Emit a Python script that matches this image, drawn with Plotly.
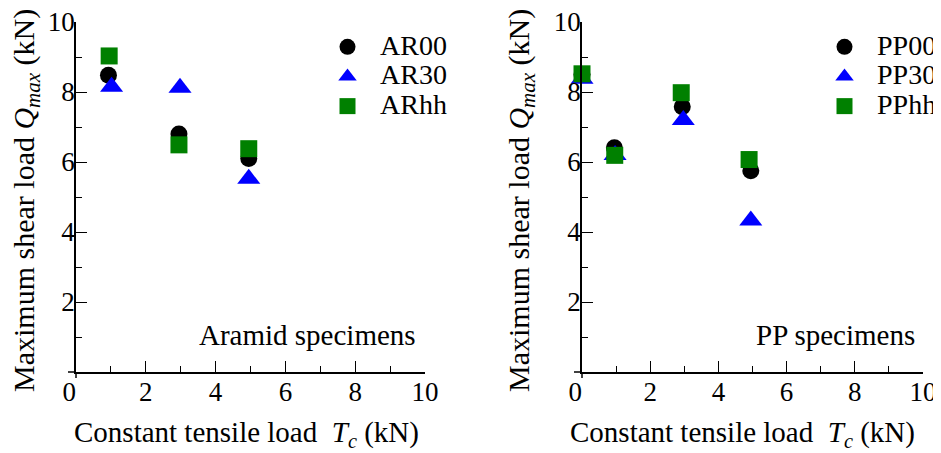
import plotly.graph_objects as go

# ---------------- data ----------------
# Aramid specimens
ar_labels = ["AR00", "AR30", "ARhh"]
ar00_x = [0.93, 2.95, 4.95]
ar00_y = [8.48, 6.80, 6.10]
ar30_x = [1.02, 2.98, 4.95]
ar30_y = [8.15, 8.12, 5.52]
arhh_x = [0.95, 2.95, 4.95]
arhh_y = [9.03, 6.49, 6.38]

# PP specimens
pp_labels = ["PP00", "PP30", "PPhh"]
pp00_x = [0.0, 0.95, 2.94, 4.95]
pp00_y = [8.50, 6.41, 7.58, 5.75]
pp30_x = [0.0, 0.97, 2.97, 4.95]
pp30_y = [8.38, 6.20, 7.20, 4.33]
pphh_x = [0.0, 0.96, 2.91, 4.90]
pphh_y = [8.52, 6.19, 7.98, 6.07]

x_major = [0, 2, 4, 6, 8, 10]
x_major_text = ["0\u00a0\u00a0", "2", "4", "6", "8", "10"]
y_major = [2, 4, 6, 8, 10]
minor_vals = [1, 3, 5, 7, 9]

panel_notes = ["Aramid specimens", "PP specimens"]

FONT = "Liberation Serif"
colors = ["#000000", "#0000ff", "#008000"]
symbols = ["circle", "triangle-up", "square"]
sizes = [17, 20, 17]

W, H = 941, 453
OFF = 8  # page body margin offset of the plot div

fig = go.Figure()

def add_series(xs, ys, name, i, xa, ya, leg):
    fig.add_trace(go.Scatter(
        x=xs, y=ys, mode="markers",
        name='<span style="font-size:28px">' + name + "</span>",
        marker=dict(symbol=symbols[i], size=sizes[i], color=colors[i],
                    line=dict(width=0)),
        xaxis=xa, yaxis=ya, legend=leg, cliponaxis=False,
    ))

for i, (xs, ys) in enumerate([(ar00_x, ar00_y), (ar30_x, ar30_y), (arhh_x, arhh_y)]):
    add_series(xs, ys, ar_labels[i], i, "x", "y", "legend")
for i, (xs, ys) in enumerate([(pp00_x, pp00_y), (pp30_x, pp30_y), (pphh_x, pphh_y)]):
    add_series(xs, ys, pp_labels[i], i, "x2", "y2", "legend2")

def px_x(p):
    return (p - OFF) / W

def px_y(p):
    return (H - (p - OFF)) / H

ydom = [px_y(372), px_y(22)]
dom1 = [px_x(76), px_x(425)]
dom2 = [px_x(582), px_x(923)]

xaxis_common = dict(
    range=[0, 10], showline=True, linecolor="black", linewidth=1.5,
    ticks="inside", ticklen=11, tickwidth=1.3, tickcolor="black",
    tickmode="array", tickvals=x_major, ticktext=x_major_text,
    minor=dict(ticks="inside", ticklen=6, tickwidth=1.3, tickcolor="black",
               tickmode="array", tickvals=minor_vals),
    showgrid=False, zeroline=False, automargin=False,
    ticklabelstandoff=-5, ticklabeloverflow="allow",
    tickfont=dict(family=FONT, size=27, color="black"),
)
yaxis_common = dict(
    range=[0, 10], showline=True, linecolor="black", linewidth=1.5,
    ticks="inside", ticklen=11, tickwidth=1.3, tickcolor="black",
    tickmode="array", tickvals=y_major,
    minor=dict(ticks="inside", ticklen=6, tickwidth=1.3, tickcolor="black",
               tickmode="array", tickvals=minor_vals),
    showgrid=False, zeroline=False, automargin=False,
    ticklabelstandoff=-6, ticklabeloverflow="allow",
    tickfont=dict(family=FONT, size=27, color="black"),
)

legend_common = dict(
    font=dict(family=FONT, size=20.5, color="black"),
    bgcolor="rgba(0,0,0,0)", borderwidth=0, itemwidth=55,
    xanchor="left", yanchor="top", tracegroupgap=0,
)

fig.update_layout(
    width=W, height=H, autosize=False,
    margin=dict(l=0, r=0, t=0, b=0, pad=0, autoexpand=False),
    paper_bgcolor="white", plot_bgcolor="white",
    font=dict(family=FONT, size=28, color="black"),
    xaxis=dict(domain=dom1, anchor="y", **xaxis_common),
    yaxis=dict(domain=ydom, anchor="x", **yaxis_common),
    xaxis2=dict(domain=dom2, anchor="y2", **xaxis_common),
    yaxis2=dict(domain=ydom, anchor="x2", **yaxis_common),
    legend=dict(x=px_x(315), y=px_y(27), **legend_common),
    legend2=dict(x=px_x(812), y=px_y(27), **legend_common),
    showlegend=True,
)

# axis line extensions beyond the origin
for x0 in (76, 582):
    fig.add_shape(type="line", xref="paper", yref="paper",
                  x0=px_x(x0 - 8), x1=px_x(x0), y0=px_y(372), y1=px_y(372),
                  line=dict(color="black", width=1.5))
    fig.add_shape(type="line", xref="paper", yref="paper",
                  x0=px_x(x0), x1=px_x(x0), y0=px_y(372), y1=px_y(378),
                  line=dict(color="black", width=1.5))

xtitle = "Constant tensile load \u00a0<i>T</i><sub><i>c</i></sub> (kN)"
ytitle = "Maximum shear load <i>Q</i><sub><i>max</i></sub> (kN)"

for cx in (246, 742):
    fig.add_annotation(text=xtitle, xref="paper", yref="paper",
                       x=px_x(cx), y=px_y(434), xanchor="center", yanchor="middle",
                       showarrow=False, font=dict(family=FONT, size=29, color="black"))
for cx in (26, 521):
    fig.add_annotation(text=ytitle, xref="paper", yref="paper",
                       x=px_x(cx), y=px_y(201), xanchor="center", yanchor="middle",
                       textangle=-90, showarrow=False,
                       font=dict(family=FONT, size=30, color="black"))

fig.add_annotation(text=panel_notes[0], xref="x", yref="y", x=9.8, y=1.06,
                   xanchor="right", yanchor="middle", showarrow=False,
                   font=dict(family=FONT, size=29, color="black"))
fig.add_annotation(text=panel_notes[1], xref="x2", yref="y2", x=9.83, y=1.06,
                   xanchor="right", yanchor="middle", showarrow=False,
                   font=dict(family=FONT, size=29, color="black"))

fig.write_html("out.html")
